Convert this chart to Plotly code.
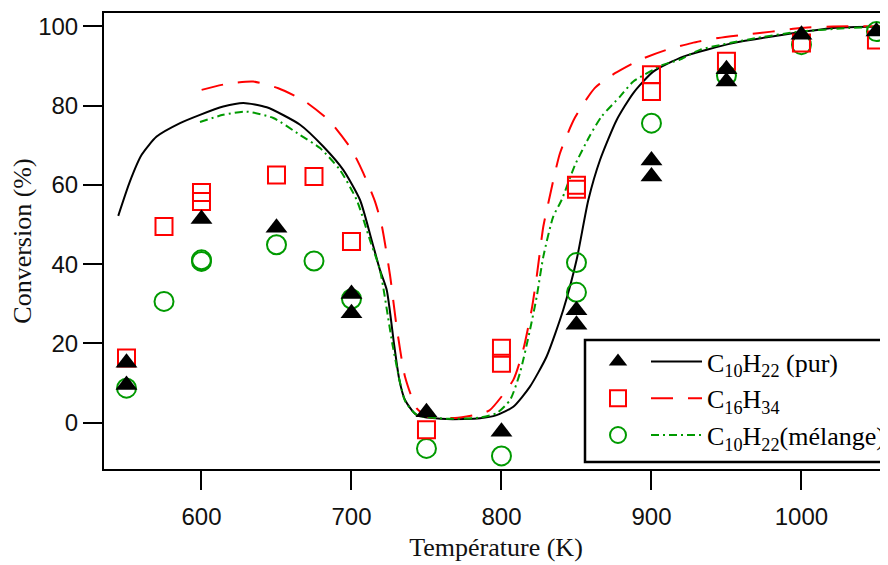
import plotly.graph_objects as go

# ---------------- data ----------------
# Experimental points
T_pur = [550, 550, 600, 650, 700, 700, 750, 800, 850, 850, 900, 900, 950, 950, 1000, 1050]
C_pur = [15.1, 9.5, 51.4, 49.2, 32.5, 27.6, 2.6, -2.3, 28.4, 24.7, 66.2, 62.1, 89.2, 86.1, 97.9, 98.7]

T_c16 = [550, 575, 600, 600, 650, 675, 700, 750, 800, 800, 850, 850, 900, 900, 950, 1000, 1050]
C_c16 = [16.3, 49.5, 58.1, 55.8, 62.5, 62.1, 45.7, -1.8, 18.8, 15.0, 59.9, 58.9, 87.8, 83.6, 91.2, 95.8, 96.6]

T_mel = [550, 575, 600, 600, 650, 675, 700, 750, 800, 850, 850, 900, 950, 1000, 1050]
C_mel = [8.7, 30.6, 41.1, 40.7, 44.9, 40.8, 31.2, -6.5, -8.4, 40.4, 32.9, 75.6, 87.6, 95.4, 98.7]

# Model curves
Tm_pur = [544.5, 552.3, 560.1, 570.1, 585.7, 599, 614.5, 627.9, 643.5, 665.7, 681.2, 694.5, 705.7,
          713.5, 719, 723.5, 728.5, 731.9, 735.7, 743.5, 763.5, 785.7, 796.8, 807.9, 819, 830.1,
          841.2, 850.1, 857.9, 865.7, 876.8, 887.9, 901.2, 921.2, 954.5, 987.9, 1021.2, 1057.7]
Cm_pur = [52.2, 60.9, 67.6, 72.2, 75.6, 77.7, 79.8, 80.7, 79.6, 75.2, 69.7, 63.8, 56.2,
          46.0, 38.5, 33.5, 19.5, 10.8, 5.7, 1.9, 0.9, 1.1, 1.9, 4.0, 9.1, 16.7,
          28.5, 41.1, 56.2, 66.3, 76.4, 83.2, 88.6, 92.4, 95.8, 97.9, 99.6, 100.0]

Tm_c16 = [600.1, 616.8, 634.5, 651.2, 669, 685.7, 700.1, 707.9, 715.7, 720.1, 725.7, 730.1, 735.7,
          743.5, 751, 769, 785.7, 792.3, 807.9, 814.5, 820.1, 823.5, 827.9, 831.2, 839, 849,
          862.3, 875.7, 892.3, 910.1, 926.8, 944.5, 961.2, 980.1, 999, 1021, 1057.7]
Cm_c16 = [84.0, 85.5, 86.1, 84.4, 81.1, 76.0, 68.9, 63.0, 55.8, 49.9, 37.2, 24.2, 11.6,
          3.6, 1.5, 1.2, 2.2, 3.2, 10.8, 18.4, 28.5, 36.9, 49.5, 55.4, 68.0, 77.0,
          84.5, 88.2, 91.6, 94.1, 95.8, 97.1, 97.9, 98.7, 99.6, 100.0, 100.0]

Tm_mel = [599, 614.5, 630.1, 647.9, 665.7, 679, 692.3, 703.5, 712.3, 719, 727.7, 735.7, 743.5,
          763.5, 785.7, 796.8, 805.7, 812.3, 819, 823.5, 827.9, 834.5, 840.1, 849, 859,
          866.8, 879, 887.9, 907.5, 918.7, 932.3, 965.7, 999, 1032, 1057.7]
Cm_mel = [75.9, 77.7, 78.5, 76.9, 72.6, 69.3, 63.8, 56.2, 46.1, 38.5, 19.0, 5.5, 2.0,
          1.0, 1.3, 2.4, 5.7, 12.5, 23.4, 31.8, 41.9, 52.0, 56.2, 65.0, 72.5,
          77.3, 82.3, 86.1, 90.3, 91.6, 94.1, 96.8, 98.7, 99.6, 100.0]

x_ticks = [600, 700, 800, 900, 1000]
y_ticks = [0, 20, 40, 60, 80, 100]

names = ["C<sub>10</sub>H<sub>22</sub> (pur)", "C<sub>16</sub>H<sub>34</sub>",
         "C<sub>10</sub>H<sub>22</sub>(mélange)"]
# invisible spacer labels for the symbol-only legend column (same height as the names)
spacer = "C<sub>1</sub>"

BLACK = "#000000"
RED = "#FF0000"
GREEN = "#009A00"

fig = go.Figure()

# model curves (legend2: line + text)
fig.add_trace(go.Scatter(x=Tm_pur, y=Cm_pur, mode="lines", name=names[0], legend="legend2", legendrank=1,
                         line=dict(color=BLACK, width=2, shape="spline", smoothing=0.6)))
fig.add_trace(go.Scatter(x=Tm_c16, y=Cm_c16, mode="lines", name=names[1], legend="legend2", legendrank=2,
                         line=dict(color=RED, width=2, dash="22px,15px", shape="spline", smoothing=0.6)))
fig.add_trace(go.Scatter(x=Tm_mel, y=Cm_mel, mode="lines", name=names[2], legend="legend2", legendrank=3,
                         line=dict(color=GREEN, width=2, dash="8px,4px,2px,4px", shape="spline", smoothing=0.6)))

# experimental markers (legend: symbols only)
fig.add_trace(go.Scatter(x=T_mel, y=C_mel, mode="markers", name=spacer, legend="legend", legendrank=3,
                         hovertext=names[2],
                         marker=dict(symbol="circle-open", size=19, color=GREEN, line=dict(width=2, color=GREEN))))
fig.add_trace(go.Scatter(x=T_c16, y=C_c16, mode="markers", name=spacer, legend="legend", legendrank=2,
                         hovertext=names[1],
                         marker=dict(symbol="square-open", size=17, color=RED, line=dict(width=2, color=RED))))
fig.add_trace(go.Scatter(x=T_pur, y=C_pur, mode="markers", name=spacer, legend="legend", legendrank=1,
                         hovertext=names[0],
                         marker=dict(symbol="triangle-up", size=19, color=BLACK, line=dict(width=0))))

# The page body has an 8 px margin; size the figure so it fits the 888x565 window.
OFF = 8
W, H = 888 - OFF, 565 - OFF
# plot area in window pixels: x 104..888, y 13..469
ml, mr, mt, mb = 104 - OFF, 0, 13 - OFF, H - (469 - OFF)
pw, ph = W - ml - mr, H - mt - mb


def px2paper_x(px):
    return (px - OFF - ml) / pw


def px2paper_y(py):
    return (H - mb - (py - OFF)) / ph


fig.add_shape(type="rect", xref="paper", yref="paper",
              x0=px2paper_x(585), x1=px2paper_x(900), y0=px2paper_y(462), y1=px2paper_y(340),
              line=dict(color="black", width=2.5), fillcolor="white", layer="above")

fig.update_layout(
    width=W, height=H,
    margin=dict(l=ml, r=mr, t=mt, b=mb, pad=0, autoexpand=False),
    paper_bgcolor="white", plot_bgcolor="white",
    showlegend=True,
    legend=dict(x=px2paper_x(598), y=px2paper_y(338), xanchor="left", yanchor="top",
                bgcolor="rgba(0,0,0,0)", borderwidth=0, itemsizing="trace",
                font=dict(family="Liberation Serif", size=26, color="rgba(0,0,0,0)")),
    legend2=dict(x=px2paper_x(646), y=px2paper_y(338), xanchor="left", yanchor="top",
                 bgcolor="rgba(0,0,0,0)", borderwidth=0, itemwidth=51,
                 font=dict(family="Liberation Serif", size=26, color="black")),
    xaxis=dict(range=[535, 1057.7], tickvals=x_ticks, ticktext=[str(v) for v in x_ticks],
               showgrid=False, zeroline=False, showline=True, linecolor="black", linewidth=2,
               mirror=True, ticks="outside", ticklen=19, tickwidth=2, tickcolor="black",
               ticklabelstandoff=6,
               tickfont=dict(family="Liberation Sans", size=24, color="#111111"),
               title=dict(text="Température (K)", font=dict(family="Liberation Serif", size=26, color="#111111"),
                          standoff=9)),
    yaxis=dict(range=[-11.7, 103.4], tickvals=y_ticks, ticktext=[str(v) for v in y_ticks],
               showgrid=False, zeroline=False, showline=True, linecolor="black", linewidth=2,
               mirror=False, ticks="outside", ticklen=19, tickwidth=2, tickcolor="black",
               tickfont=dict(family="Liberation Sans", size=24, color="#111111"),
               title=dict(text="Conversion (%)", font=dict(family="Liberation Serif", size=26, color="#111111"),
                          standoff=8)),
)

fig.write_html("out.html")
